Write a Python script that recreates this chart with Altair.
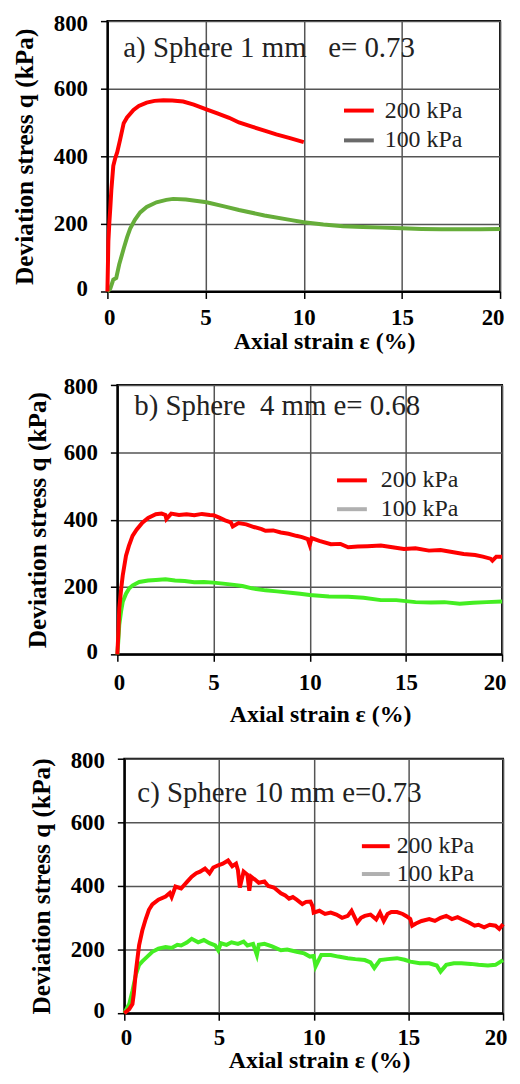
import altair as alt
import pandas as pd

# ---------------- data ----------------
SERIES = ["200 kPa", "100 kPa"]
X_TICKS = [0, 5, 10, 15, 20]
Y_TICKS = [0, 200, 400, 600, 800]

# a) Sphere 1 mm
a_red_x = [0, 0.05, 0.1, 0.15, 0.2, 0.3, 0.4, 0.5, 0.65, 0.83, 1.0, 1.33, 1.6, 2.0, 2.4, 2.85,
           3.3, 3.86, 4.4, 5.04, 5.6, 6.2, 6.7, 7.4, 8.0, 8.6, 9.3, 10.0]
a_red_q = [0, 150, 205, 250, 300, 372, 395, 412, 450, 498, 515, 537, 549, 559, 564, 566,
           565, 562, 553, 539, 527, 514, 500, 487, 476, 465, 454, 442]
a_green_x = [0, 0.15, 0.3, 0.45, 0.6, 0.83, 1.0, 1.16, 1.4, 1.67, 2.0, 2.5, 3.0, 3.35, 4.0, 5.05,
             6.0, 6.7, 8.0, 9.3, 10.0, 11.0, 12.0, 13.0, 14.0, 15.0, 16.0, 17.0, 18.0, 19.0, 20.0]
a_green_q = [0, 9, 35, 40, 80, 127, 160, 186, 212, 234, 250, 264, 271, 274, 272, 264,
             251, 241, 225, 212, 205, 198, 193, 191, 189, 187, 185, 184, 184, 184, 185]

# b) Sphere 4 mm
b_red_x = [0, 0.05, 0.1, 0.2, 0.28, 0.45, 0.6, 0.79, 1.0, 1.3, 1.6, 2.0, 2.3, 2.5, 2.55, 2.8, 3.2,
           3.6, 4.0, 4.4, 4.8, 5.0, 5.3, 5.6, 5.9, 6.0, 6.3, 6.7, 7.1, 7.5, 7.7, 8.1, 8.5, 8.9,
           9.3, 9.6, 9.9, 10.0, 10.1, 10.5, 11.1, 11.6, 12.0, 12.5, 13.0, 13.7, 14.3, 14.9, 15.5,
           16.2, 16.8, 17.4, 18.0, 18.6, 19.0, 19.4, 19.5, 19.7, 20.0]
b_red_q = [0, 60, 137, 195, 234, 293, 322, 352, 370, 391, 405, 416, 418, 414, 402, 418, 414,
           416, 413, 417, 414, 413, 406, 398, 392, 380, 390, 386, 378, 372, 367, 368, 362, 358,
           352, 348, 342, 325, 345, 337, 327, 328, 318, 320, 321, 323, 318, 313, 315,
           308, 310, 304, 298, 295, 290, 284, 278, 290, 290]
b_green_x = [0, 0.05, 0.1, 0.2, 0.28, 0.45, 0.62, 0.8, 1.14, 1.6, 2.0, 2.5, 3.0, 3.5, 4.0, 4.5,
             5.0, 5.5, 5.96, 6.5, 7.0, 7.7, 8.3, 9.0, 9.5, 10.0, 10.5, 11.0, 12.0, 12.8, 13.7,
             14.5, 15.5, 16.3, 17.0, 17.8, 18.5, 19.2, 20.0]
b_green_q = [0, 40, 88, 130, 156, 180, 196, 205, 215, 219, 221, 223, 219, 218, 214, 215,
             213, 210, 207, 203, 196, 190, 187, 183, 180, 176, 174, 172, 171, 168, 161,
             161, 155, 154, 155, 150, 153, 155, 157]

# c) Sphere 10 mm
c_red_x = [0, 0.26, 0.43, 0.5, 0.61, 0.78, 0.95, 1.13, 1.3, 1.48, 1.8, 2.18, 2.4, 2.5, 2.7, 3.0,
           3.3, 3.56, 3.8, 4.0, 4.26, 4.5, 4.7, 4.96, 5.2, 5.48, 5.7, 5.9, 6.0, 6.1, 6.3, 6.5,
           6.6, 6.7, 6.9, 7.1, 7.4, 7.6, 7.9, 8.27, 8.5, 8.7, 8.9, 9.1, 9.4, 9.6, 9.83, 9.95,
           10.0, 10.3, 10.6, 10.9, 11.2, 11.5, 11.8, 12.0, 12.3, 12.5, 12.7, 13.0, 13.3, 13.5,
           13.7, 13.9, 14.1, 14.4, 14.7, 14.9, 15.1, 15.2, 15.4, 15.7, 16.1, 16.4, 16.7, 17.0,
           17.3, 17.6, 17.8, 18.2, 18.5, 18.7, 19.0, 19.3, 19.6, 19.8, 20.0]
c_red_q = [0, 13, 29, 60, 131, 213, 260, 296, 325, 342, 357, 367, 378, 365, 398, 392,
           412, 429, 440, 445, 455, 440, 458, 465, 470, 480, 462, 470, 450, 395, 445, 435,
           385, 429, 420, 410, 414, 400, 395, 377, 370, 360, 365, 357, 343, 350, 351, 335,
           316, 322, 312, 316, 310, 300, 306, 322, 285, 300, 306, 310, 295, 316,
           290, 312, 318, 318, 312, 305, 296, 275, 282, 290, 296, 290, 300, 306,
           296, 302, 296, 285, 275, 278, 270, 278, 275, 265, 280]
c_green_x = [0, 0.26, 0.43, 0.61, 0.78, 0.95, 1.13, 1.48, 1.8, 2.18, 2.5, 2.8, 3.0, 3.3, 3.56,
             3.9, 4.2, 4.5, 4.8, 4.96, 5.1, 5.4, 5.66, 6.0, 6.3, 6.5, 6.8, 7.0, 7.1, 7.4, 7.8,
             8.27, 8.6, 9.1, 9.5, 9.8, 10.0, 10.1, 10.4, 10.9, 11.3, 11.8, 12.2, 12.7, 13.0,
             13.2, 13.5, 13.9, 14.4, 14.8, 15.1, 15.6, 16.1, 16.5, 16.7, 17.0, 17.4, 17.8,
             18.3, 18.7, 19.2, 19.6, 20.0]
c_green_q = [0, 29, 70, 121, 152, 163, 173, 193, 203, 208, 205, 215, 213, 222, 234,
             223, 230, 220, 213, 198, 220, 215, 223, 218, 225, 213, 218, 183, 215, 218, 210,
             198, 200, 193, 188, 178, 180, 147, 183, 183, 178, 173, 170, 167, 160,
             142, 167, 170, 173, 168, 162, 157, 157, 150, 131, 152, 157, 157,
             155, 152, 150, 152, 167]

labels = ["a) Sphere 1 mm\u00a0\u00a0 e= 0.73", "b) Sphere\u00a0 4 mm e= 0.68", "c) Sphere 10 mm e=0.73"]
label_strain = [0.81, 0.88, 0.69]
label_q = [695, 712, 665]

# ---------------- styling ----------------
RED = "#ff0000"
SERIF = "Liberation Serif"


def series_df(xs, qs, name):
    return pd.DataFrame({"strain": xs, "q": qs, "series": name, "order": list(range(len(xs)))})


def spacer(w, h):
    return alt.Chart(pd.DataFrame({"v": [0]})).mark_point(opacity=0, size=0).encode(
        x=alt.X("v:Q", axis=None), y=alt.Y("v:Q", axis=None)
    ).properties(width=w, height=h)


def panel(red_x, red_q, green_x, green_q, label, lx, ly, green, gray, width, height,
          legend_x, legend_y, sym_size, lab_off, row_pad, x_title_x, x_title_y, y_title_x,
          x_lab_pad, sw):
    red = series_df(red_x, red_q, SERIES[0])
    grn = series_df(green_x, green_q, SERIES[1])
    both = pd.concat([red, grn], ignore_index=True)

    x = alt.X("strain:Q", scale=alt.Scale(domain=[0, 20], nice=False),
              axis=alt.Axis(values=X_TICKS, title="Axial strain ε (%)", titleX=x_title_x,
                            titleY=x_title_y, titleBaseline="middle", titleAlign="center",
                            labelPadding=x_lab_pad, labelFlush=True, labelFlushOffset=4))
    y = alt.Y("q:Q", scale=alt.Scale(domain=[0, 800], nice=False),
              axis=alt.Axis(values=Y_TICKS, title="Deviation stress q (kPa)", titleX=y_title_x,
                            titleY=height / 2, titleBaseline="middle", titleAlign="center",
                            titleFontSize=25.5, labelPadding=13, labelFlush=True,
                            labelFlushOffset=9))

    g_line = alt.Chart(grn).mark_line(strokeWidth=sw, color=green).encode(x=x, y=y, order="order:Q")
    r_line = alt.Chart(red).mark_line(strokeWidth=sw, color=RED).encode(x=x, y=y, order="order:Q")

    leg = alt.Chart(both).transform_filter("false").mark_line().encode(
        x=x, y=y,
        color=alt.Color("series:N", scale=alt.Scale(domain=SERIES, range=[RED, gray]),
                        legend=alt.Legend(orient="none", legendX=legend_x, legendY=legend_y,
                                          title=None, symbolType="stroke", symbolSize=sym_size,
                                          symbolStrokeWidth=4, symbolOpacity=1,
                                          labelFont=SERIF, labelFontSize=24,
                                          labelFontWeight="normal", labelColor="#222",
                                          labelOffset=lab_off, rowPadding=row_pad, padding=0)),
    )

    txt = alt.Chart(pd.DataFrame({"strain": [lx], "q": [ly], "t": [label]})).mark_text(
        align="left", baseline="alphabetic", font=SERIF, fontSize=29, color="#222"
    ).encode(x=x, y=y, text="t:N")

    return alt.layer(g_line, r_line, leg, txt).properties(
        width=width, height=height,
        view=alt.ViewBackground(stroke="#000", strokeWidth=2),
    )


pa = panel(a_red_x, a_red_q, a_green_x, a_green_q, labels[0], label_strain[0], label_q[0],
           "#66ad3a", "#6a6a6a", 395, 272, 236, 73, 900, 9, 1, 218, 50, -83, 8, 4)
pb = panel(b_red_x, b_red_q, b_green_x, b_green_q, labels[1], label_strain[1], label_q[1],
           "#44ee22", "#b0b0b0", 387, 271, 219, 79, 900, 12, 0, 204, 61, -80, 10, 4)
pc = panel(c_red_x, c_red_q, c_green_x, c_green_q, labels[2], label_strain[2], label_q[2],
           "#44ee22", "#b0b0b0", 381, 256, 237, 72, 784, 5, 0, 196, 48, -83, 6, 4)

row_a = alt.hconcat(spacer(1, 272), pa, spacing=0).resolve_scale(color="independent")
row_b = alt.hconcat(spacer(14, 271), pb, spacing=0).resolve_scale(color="independent")
row_c = alt.hconcat(spacer(18, 256), pc, spacing=0).resolve_scale(color="independent")

chart = alt.vconcat(row_a, row_b, row_c, spacing=21).resolve_scale(
    color="independent"
).properties(padding=0).configure_view(stroke="transparent").configure_axis(
    domainColor="#000", domainWidth=2, tickColor="#000", tickWidth=1.5, tickSize=7,
    grid=True, gridColor="#555", gridWidth=1.5,
    labelFont=SERIF, labelFontWeight="bold", labelFontSize=23, labelColor="#000",
    titleFont=SERIF, titleFontWeight="bold", titleFontSize=24, titleColor="#000",
)

chart.save("out.html", embed_options={"renderer": "svg", "actions": False})
